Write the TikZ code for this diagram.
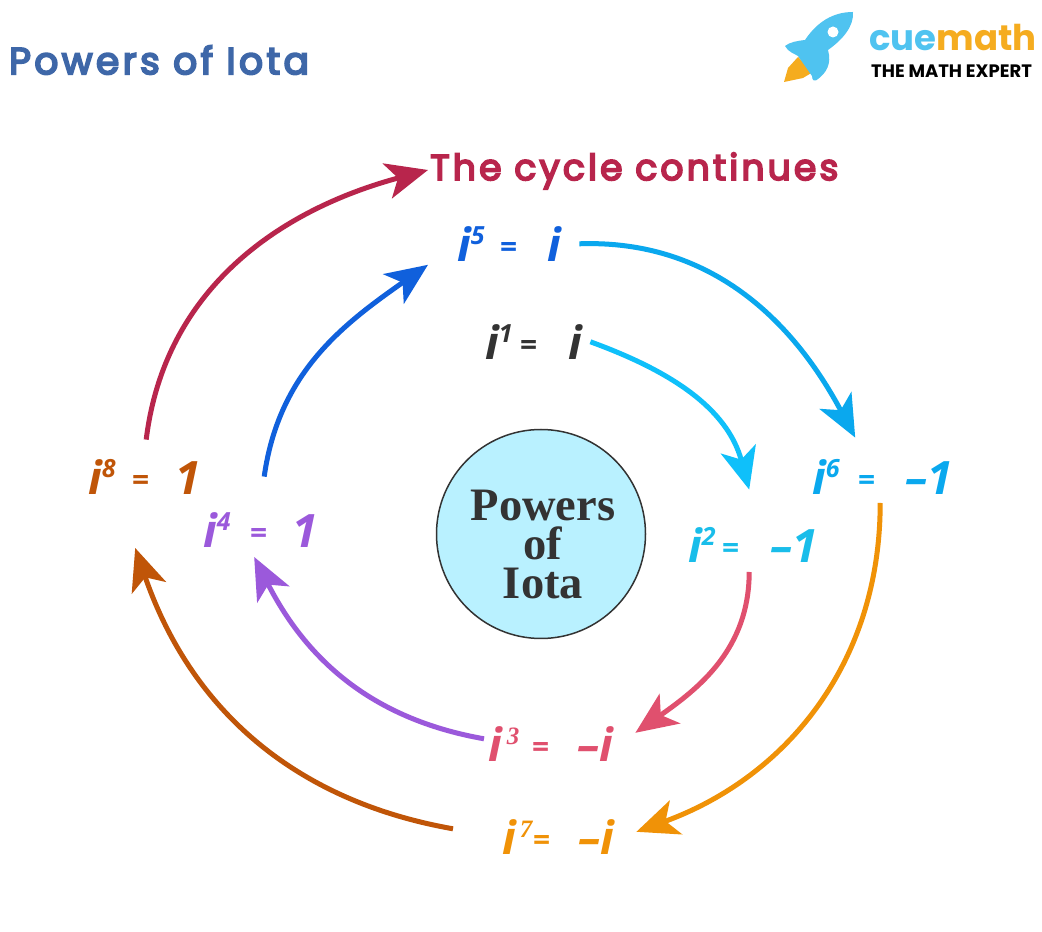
\documentclass[tikz,border=0pt]{standalone}
\usepackage{fontspec}
\usepackage{xcolor}
\usetikzlibrary{arrows.meta}

\newfontfamily\headfont[LetterSpace=9,FakeBold=5]{Poppins}
\newfontfamily\logofont{Poppins}
\newfontfamily\powerfont{Open Sans}
\newfontfamily\supfont{Liberation Serif}
\setmainfont{Liberation Serif}

\definecolor{titleblue}{HTML}{3E67A8}
\definecolor{cyclered}{HTML}{B8254C}
\definecolor{inkdark}{HTML}{333333}
\definecolor{skyfill}{HTML}{B9F1FF}
\definecolor{powcyan}{HTML}{19BDEA}
\definecolor{arrcyan}{HTML}{0FC0FA}
\definecolor{powblue}{HTML}{1060DC}
\definecolor{powsky}{HTML}{0AA8EE}
\definecolor{powrose}{HTML}{E0506E}
\definecolor{powviolet}{HTML}{9B59DB}
\definecolor{powamber}{HTML}{F09207}
\definecolor{powrust}{HTML}{C05508}
\definecolor{logocyan}{HTML}{4FC3F0}
\definecolor{logoorange}{HTML}{F5AC1F}

% superscript, width up to "=", width up to value, total width, value
\newcommand{\powertext}[5]{\makebox[#4][l]{\makebox[#2][l]{\itshape i\raisebox{17pt}{\fontsize{25}{25}\selectfont #1}}\makebox[#3][l]{\raisebox{4pt}{\upshape\fontsize{30}{30}\selectfont =}}\itshape #5}}

\begin{document}
\begin{tikzpicture}[x=1pt,y=1pt,
    powernode/.style={anchor=south west, inner sep=0pt, text height=36pt, text depth=0pt,
      font=\powerfont\bfseries\fontsize{46}{46}\selectfont},
    powerarrow/.style={line width=5pt, -{Stealth[length=42pt,width=36pt,inset=11pt]}},
  ]
  \useasboundingbox (0,0) rectangle (1042,932);
  \fill[white] (0,0) rectangle (1042,932);

  \node (title) [anchor=west, inner sep=0pt, text=titleblue, font=\headfont\fontsize{37.6}{37.6}\selectfont] at (9,872) {Powers of Iota};

  % logo
  \fill[logoorange] (798,875) -- (813,860) -- (803,854) -- (784,850) -- (788,864) -- cycle;
  \fill[logocyan] (853,920) .. controls (833,920) and (817,910) .. (805,892)
    .. controls (797,891) and (790,890) .. (785,886) .. controls (788,880) and (795,878) .. (798,876)
    -- (812,856) .. controls (812,851) and (815,850) .. (818,853)
    .. controls (826,859) and (832,868) .. (828,882)
    .. controls (842,892) and (854,905) .. (853,920) -- cycle;
  \fill[white] (833,900) circle (5.5);
  \node (logoname) [anchor=west, inner sep=0pt, font=\logofont\bfseries\fontsize{35.5}{35.5}\selectfont] at (869,894) {\textcolor{logocyan}{cue}\textcolor{logoorange}{math}};
  \node (logotag) [anchor=west, inner sep=0pt, font=\logofont\bfseries\fontsize{18}{18}\selectfont] at (871,861) {THE MATH EXPERT};

  \node (cycle) [anchor=west, inner sep=0pt, text=cyclered, font=\headfont\fontsize{36}{36}\selectfont] at (430,761) {The cycle continues};

  \node (hub) [circle, draw=inkdark, line width=1.5pt, fill=skyfill, minimum size=209pt, inner sep=0pt] at (541,398) {};
  \node (hubtext) [inner sep=0pt, text=inkdark, align=center, font=\bfseries\fontsize{46.5}{39}\selectfont] at (543,387) {Powers\\of\\Iota};

  \node (pow1) [powernode, text=inkdark]   at (485,572) {\powertext{1}{35pt}{48pt}{95pt}{i}};
  \node (pow2) [powernode, text=powcyan]   at (688,369) {\powertext{2}{34pt}{48pt}{122pt}{\textendash 1}};
  \node (pow3) [powernode, text=powrose]   at (488,170) {\powertext{\hspace{5pt}\supfont\bfseries 3}{44pt}{45pt}{127pt}{\textendash i}};
  \node (pow4) [powernode, text=powviolet] at (203,384) {\powertext{4}{47pt}{42pt}{102pt}{1}};
  \node (pow5) [powernode, text=powblue]   at (457,670) {\powertext{5}{43pt}{47pt}{101pt}{i}};
  \node (pow6) [powernode, text=powsky]    at (812,437) {\powertext{6}{46pt}{47pt}{130pt}{\textendash 1}};
  \node (pow7) [powernode, text=powamber]  at (502,77)  {\powertext{\hspace{4pt}\supfont\bfseries 7}{31pt}{45pt}{113pt}{\textendash i}};
  \node (pow8) [powernode, text=powrust]   at (88,437)  {\powertext{8}{44pt}{43pt}{100pt}{1}};

  \draw[powerarrow, arrcyan]   ([xshift=10pt]pow1.east) to[out=-20, in=105] ([yshift=37pt]pow2.north);
  \draw[powerarrow, powrose]   ([yshift=-9pt]pow2.south) to[out=-90, in=35] ([xshift=20pt,yshift=11pt]pow3.east);
  \draw[powerarrow, powviolet] ([xshift=-4pt,yshift=5pt]pow3.west) to[out=170, in=-63] ([yshift=-9pt]pow4.south);
  \draw[powerarrow, powblue]   ([xshift=10pt,yshift=35pt]pow4.north) to[out=82, in=215] ([xshift=-29pt,yshift=-21pt]pow5.west);
  \draw[powerarrow, powsky]    ([xshift=21pt]pow5.east) to[out=2, in=118] ([xshift=-22pt,yshift=21pt]pow6.north);
  \draw[powerarrow, powamber]  ([xshift=3pt,yshift=-8pt]pow6.south) to[out=-90, in=20] ([xshift=21pt,yshift=5pt]pow7.east);
  \draw[powerarrow, powrust]   ([xshift=-49pt,yshift=8pt]pow7.west) to[out=170, in=-71] ([xshift=-3pt,yshift=-53pt]pow8.south);
  \draw[powerarrow, cyclered]  ([xshift=8pt,yshift=19pt]pow8.north) to[out=83, in=195] ([xshift=-2pt,yshift=1pt]cycle.west);
\end{tikzpicture}
\end{document}
